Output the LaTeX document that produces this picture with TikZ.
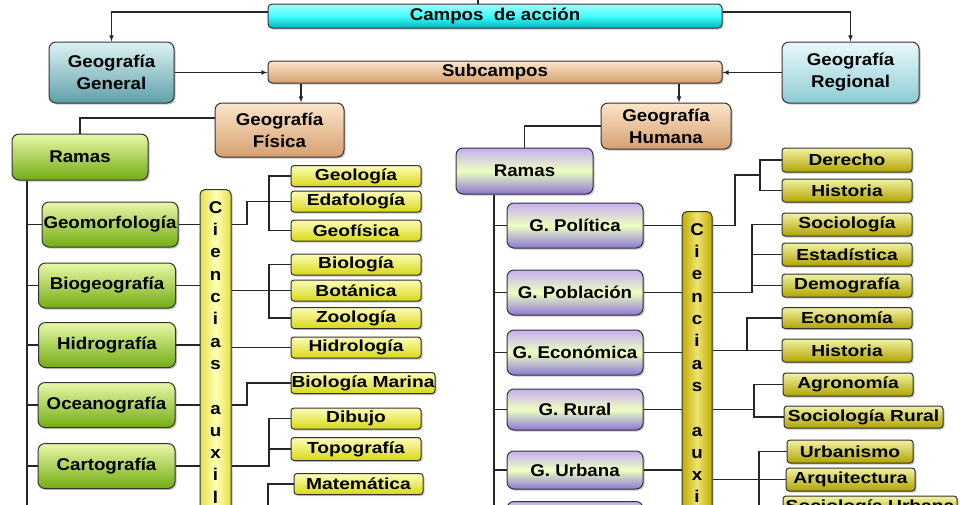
\documentclass[tikz,border=0pt]{standalone}
\usepackage{fontspec}
\setmainfont{Liberation Sans}[FakeStretch=1.1]
\newfontfamily\smallfont{Liberation Sans}[FakeStretch=1.2]
\usetikzlibrary{shadows}

\definecolor{campoTop}{HTML}{A8F8F8}
\definecolor{campoBot}{HTML}{00B4BC}
\definecolor{genTop}{HTML}{DDF3F5}
\definecolor{genBot}{HTML}{5E9FA8}
\definecolor{regTop}{HTML}{EAFAFC}
\definecolor{regBot}{HTML}{8CCBD3}
\definecolor{peachTop}{HTML}{FCE4CA}
\definecolor{peachBot}{HTML}{D6A070}
\definecolor{verdeTop}{HTML}{E8F8A8}
\definecolor{verdeBot}{HTML}{72AC12}
\definecolor{lilaTop}{HTML}{C6AEF2}
\definecolor{lilaMid}{HTML}{EEFFC0}
\definecolor{lilaBot}{HTML}{8E76D6}
\definecolor{amaTop}{HTML}{FDFDB8}
\definecolor{amaBot}{HTML}{D8D818}
\definecolor{olivaTop}{HTML}{F2F2A4}
\definecolor{olivaBot}{HTML}{B0A400}
\definecolor{cienLside}{HTML}{E2E24C}
\definecolor{cienLmid}{HTML}{FFFFB4}
\definecolor{cienRside}{HTML}{BFAE00}
\definecolor{cienRmid}{HTML}{EEE272}

\begin{document}
\begin{tikzpicture}[x=1pt, y=-1pt,
  box/.style={draw=black!80, line width=1pt, rounded corners=7pt, align=center, inner sep=0pt, text=black, font=\fontsize{17}{22}\selectfont\bfseries, drop shadow={shadow xshift=1.5pt, shadow yshift=-1.5pt, opacity=0.45}},
  campo/.style={box, rounded corners=4pt, minimum width=454pt, minimum height=24pt, top color=campoTop, bottom color=campoBot, middle color=cyan!75!white},
  subbar/.style={box, rounded corners=4pt, minimum width=454pt, minimum height=22pt, top color=peachTop, bottom color=peachBot},
  gen/.style={box, minimum width=125pt, minimum height=61pt, top color=genTop, bottom color=genBot},
  reg/.style={box, minimum width=137pt, minimum height=61pt, top color=regTop, bottom color=regBot},
  peach/.style={box, top color=peachTop, bottom color=peachBot},
  verde/.style={box, minimum width=137pt, minimum height=45pt, top color=verdeTop, bottom color=verdeBot},
  lila/.style={box, minimum width=136pt, minimum height=45pt, top color=lilaTop, bottom color=lilaBot, middle color=lilaMid},
  ciencia/.style={box, rounded corners=5pt, anchor=north, minimum width=31pt, inner ysep=12pt, font=\fontsize{17}{22.3}\selectfont\bfseries},
  amarillo/.style={box, rounded corners=3pt, minimum width=130pt, minimum height=21pt, top color=amaTop, bottom color=amaBot, font=\smallfont\fontsize{16}{18}\selectfont\bfseries},
  oliva/.style={box, rounded corners=3pt, minimum width=130pt, minimum height=23pt, top color=olivaTop, bottom color=olivaBot, font=\smallfont\fontsize{16}{18}\selectfont\bfseries},
  linea/.style={draw=black!85, line width=1.1pt},
  flecha/.style={linea, -latex}
]
  \useasboundingbox (0,0) rectangle (960,504);
  \clip (0,0) rectangle (960,504);

  \node[campo] (campos) at (495,16) {Campos\ \ de acción};
  \node[gen] (ggen) at (111.5,72.5) {Geografía\\General};
  \node[reg] (greg) at (850.5,72.5) {Geografía\\Regional};
  \node[subbar] (subc) at (495,72) {Subcampos};
  \node[peach, minimum width=129pt, minimum height=54pt] (gfis) at (279.5,130) {Geografía\\Física};
  \node[peach, minimum width=130pt, minimum height=46pt] (ghum) at (666,126) {Geografía\\Humana};

  \node[verde, minimum width=136pt, minimum height=46pt] (ramasL) at (80,157) {Ramas};
  \node[verde, minimum width=136pt] (geomorf) at (110,224.5) {Geomorfología};
  \node[verde] (biogeo) at (107,285.5) {Biogeografía};
  \node[verde] (hidro) at (107,345) {Hidrografía};
  \node[verde] (oceano) at (106.5,405) {Oceanografía};
  \node[verde] (carto) at (106.5,466) {Cartografía};

  \node[ciencia, left color=cienLside, right color=cienLside, middle color=cienLmid] (cienL) at (215.5,189)
    {C\\i\\e\\n\\c\\i\\a\\s\\~\\a\\u\\x\\i\\l\\i\\a\\r\\e\\s};

  \node[amarillo] (geolog) at (356,176) {Geología};
  \node[amarillo] (edafo) at (356,201.5) {Edafología};
  \node[amarillo] (geofis) at (356,230.5) {Geofísica};
  \node[amarillo] (biolog) at (356,264.5) {Biología};
  \node[amarillo] (botan) at (356,290.5) {Botánica};
  \node[amarillo] (zoolog) at (356,318) {Zoología};
  \node[amarillo] (hidrol) at (356,347.5) {Hidrología};
  \node[amarillo, minimum width=144pt] (biomar) at (363,383) {Biología Marina};
  \node[amarillo] (dibujo) at (356,418.5) {Dibujo};
  \node[amarillo, minimum height=23pt] (topog) at (356,449) {Topografía};
  \node[amarillo, minimum width=129pt] (matem) at (358.5,484) {Matemática};

  \node[lila, minimum width=137pt, minimum height=46pt] (ramasR) at (524.5,171) {Ramas};
  \node[lila] (gpol) at (575,225.5) {G. Política};
  \node[lila] (gpob) at (575,292.5) {G. Población};
  \node[lila] (gecon) at (575,352.5) {G. Económica};
  \node[lila, minimum height=41pt] (grur) at (575,409.5) {G. Rural};
  \node[lila, minimum height=38pt] (gurb) at (575,470) {G. Urbana};
  \node[lila] (gsexta) at (575,524) {};

  \node[ciencia, minimum width=30pt, left color=cienRside, right color=cienRside, middle color=cienRmid] (cienR) at (697,211)
    {C\\i\\e\\n\\c\\i\\a\\s\\~\\a\\u\\x\\i\\l\\i\\a\\r\\e\\s};

  \node[oliva, minimum height=24pt] (derecho) at (847,160) {Derecho};
  \node[oliva] (hist1) at (847,190.5) {Historia};
  \node[oliva] (socio) at (847,224.5) {Sociología};
  \node[oliva] (estad) at (847,254.5) {Estadística};
  \node[oliva] (demog) at (847,285.5) {Demografía};
  \node[oliva, minimum height=21pt] (econ) at (847,318) {Economía};
  \node[oliva] (hist2) at (847,350.5) {Historia};
  \node[oliva] (agron) at (848,384.5) {Agronomía};
  \node[oliva, minimum width=159pt, minimum height=22pt] (socrur) at (863.5,417) {Sociología Rural};
  \node[oliva, minimum width=126pt] (urban) at (850,451.5) {Urbanismo};
  \node[oliva, minimum width=129pt] (arquit) at (850.5,479.5) {Arquitectura};
  \node[oliva, minimum width=174pt] (socurb) at (870,507.5) {Sociología Urbana};

  \coordinate (topin) at (478,-5);
  \coordinate (trunkL) at (27,515);
  \coordinate (trunkR) at (494,515);
  \coordinate (jL) at (247,0);
  \coordinate (brL) at (269,0);
  \coordinate (botL) at (268,515);
  \coordinate (jR) at (735,0);
  \coordinate (brPol) at (760,175);
  \coordinate (brPob) at (752,0);
  \coordinate (brEco) at (747,0);
  \coordinate (brRur) at (754,0);
  \coordinate (brUrb) at (759,0);
  \coordinate (botR) at (759,515);

  \draw[linea] (campos.north -| topin) -- (topin);
  \draw[flecha] ([yshift=4pt]campos.west) -| (ggen.north);
  \draw[flecha] ([yshift=4pt]campos.east) -| (greg.north);
  \draw[flecha] (ggen.east) -- (subc.west |- ggen.east);
  \draw[flecha] (greg.west) -- (subc.east |- greg.west);
  \draw[flecha] ([xshift=21.5pt]gfis.north |- subc.south) -- ([xshift=21.5pt]gfis.north);
  \draw[flecha] ([xshift=13pt]ghum.north |- subc.south) -- ([xshift=13pt]ghum.north);
  \draw[linea] ([yshift=12pt]gfis.west) -| (ramasL.north);
  \draw[linea] (ghum.west) -| (ramasR.north);

  \draw[linea] (ramasL.south -| trunkL) -- (trunkL);
  \draw[linea] (geomorf.west) -- (geomorf.west -| trunkL);
  \draw[linea] (biogeo.west) -- (biogeo.west -| trunkL);
  \draw[linea] (hidro.west) -- (hidro.west -| trunkL);
  \draw[linea] (oceano.west) -- (oceano.west -| trunkL);
  \draw[linea] (carto.west) -- (carto.west -| trunkL);
  \draw[linea] (geomorf.east) -- (cienL.west |- geomorf.east);
  \draw[linea] (biogeo.east) -- (cienL.west |- biogeo.east);
  \draw[linea] (hidro.east) -- (cienL.west |- hidro.east);
  \draw[linea] (oceano.east) -- (cienL.west |- oceano.east);
  \draw[linea] (carto.east) -- (cienL.west |- carto.east);

  \draw[linea] (cienL.east |- geomorf) -| (jL |- edafo) -- (edafo.west);
  \draw[linea] (geolog.west) -| (brL |- geofis) -- (geofis.west);
  \draw[linea] (cienL.east |- botan) -- (botan.west);
  \draw[linea] (biolog.west) -| (brL |- zoolog) -- (zoolog.west);
  \draw[linea] (cienL.east |- hidrol) -- (hidrol.west);
  \draw[linea] (cienL.east |- oceano) -| (jL |- biomar) -- (biomar.west);
  \draw[linea] (cienL.east |- carto) -| (brL |- dibujo) -- (dibujo.west);
  \draw[linea] (topog.west) -- (topog.west -| brL);
  \draw[linea] (matem.west) -| (botL);

  \draw[linea] (ramasR.south -| trunkR) -- (trunkR);
  \draw[linea] (gpol.west) -- (gpol.west -| trunkR);
  \draw[linea] (gpob.west) -- (gpob.west -| trunkR);
  \draw[linea] (gecon.west) -- (gecon.west -| trunkR);
  \draw[linea] (grur.west) -- (grur.west -| trunkR);
  \draw[linea] (gurb.west) -- (gurb.west -| trunkR);
  \draw[linea] (gpol.east) -- (cienR.west |- gpol.east);
  \draw[linea] (gpob.east) -- (cienR.west |- gpob.east);
  \draw[linea] (gecon.east) -- (cienR.west |- gecon.east);
  \draw[linea] (grur.east) -- (cienR.west |- grur.east);
  \draw[linea] (gurb.east) -- (cienR.west |- gurb.east);

  \draw[linea] (cienR.east |- gpol) -| (jR |- brPol) -- (brPol);
  \draw[linea] (derecho.west) -| (brPol |- hist1) -- (hist1.west);
  \draw[linea] (cienR.east |- gpob) -| (brPob |- socio) -- (socio.west);
  \draw[linea] (estad.west) -- (estad.west -| brPob);
  \draw[linea] (demog.west) -- (demog.west -| brPob);
  \draw[linea] (cienR.east |- hist2) -- (hist2.west);
  \draw[linea] (econ.west) -| (brEco |- hist2);
  \draw[linea] (cienR.east |- grur) -- (brRur |- grur);
  \draw[linea] (agron.west) -| (brRur |- socrur) -- (socrur.west);
  \draw[linea] (cienR.east |- arquit) -- (arquit.west);
  \draw[linea] (urban.west) -| (botR);
\end{tikzpicture}
\end{document}
